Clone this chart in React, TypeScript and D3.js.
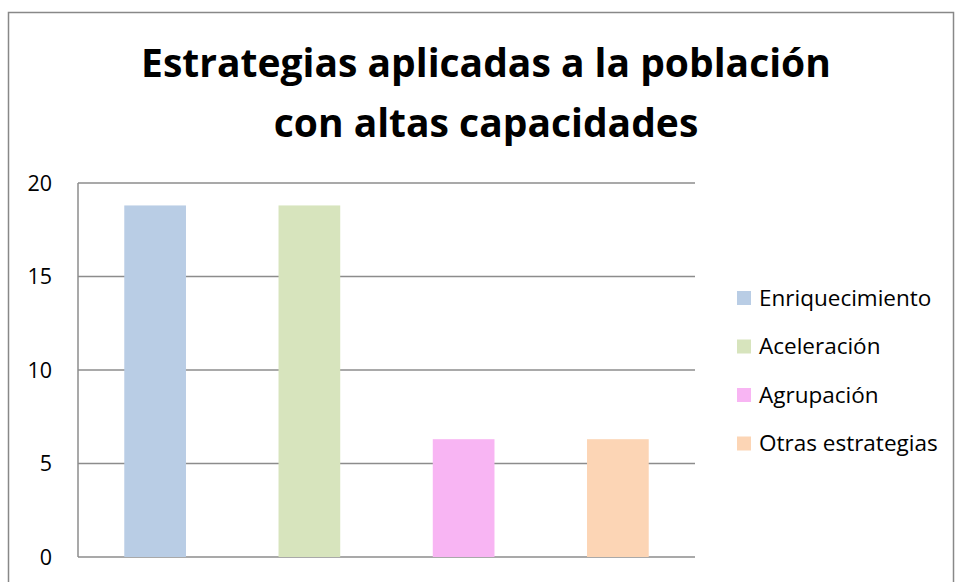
import React from "react"
import * as d3 from "d3"

const W = 955
const H = 582

const TITLE = ["Estrategias aplicadas a la población", "con altas capacidades"]
const CATEGORIES = ["Enriquecimiento", "Aceleración", "Agrupación", "Otras estrategias"]
const VALUES = [18.8, 18.8, 6.3, 6.3]
const COLORS = ["#B9CDE5", "#D7E4BD", "#F8B5F3", "#FCD5B5"]
const Y_TICKS = [0, 5, 10, 15, 20]

const FONT = "'Open Sans', Lato, sans-serif"
const GRID = "#8c8c8c"

const plot = { left: 78, right: 695, top: 183, bottom: 557 }

export default function App() {
  const x = d3
    .scaleBand<string>()
    .domain(CATEGORIES)
    .range([plot.left, plot.right])
  const y = d3.scaleLinear().domain([0, 20]).range([plot.bottom, plot.top])
  const barW = x.bandwidth() * 0.4

  return (
    <svg
      width={W}
      height={H}
      style={{ position: "absolute", left: 0, top: 0, background: "#fff" }}
    >
      {/* marco del gráfico */}
      <rect x={8.5} y={12.5} width={945} height={600} fill="#fff" stroke="#888" strokeWidth={1.5} />

      {TITLE.map((t, i) => (
        <text
          key={t}
          x={486}
          y={77 + i * 60}
          textAnchor="middle"
          fontFamily={FONT}
          fontWeight={700}
          fontSize={39}
          fill="#000"
        >
          {t}
        </text>
      ))}

      {Y_TICKS.map((v) => (
        <g key={v}>
          <line x1={plot.left} x2={plot.right} y1={y(v)} y2={y(v)} stroke={GRID} strokeWidth={1.5} />
          <text
            x={52}
            y={y(v)}
            dy="0.35em"
            textAnchor="end"
            fontFamily={FONT}
            fontSize={21.5}
            fill="#000"
          >
            {v}
          </text>
        </g>
      ))}
      <line x1={plot.left} x2={plot.left} y1={plot.top} y2={plot.bottom} stroke={GRID} strokeWidth={1.5} />

      {CATEGORIES.map((c, i) => (
        <rect
          key={c}
          x={(x(c) as number) + (x.bandwidth() - barW) / 2}
          y={y(VALUES[i])}
          width={barW}
          height={y(0) - y(VALUES[i])}
          fill={COLORS[i]}
        />
      ))}

      {CATEGORIES.map((c, i) => (
        <g key={c} transform={`translate(737, ${298 + i * 48.5})`}>
          <rect x={0} y={-7} width={14} height={14} fill={COLORS[i]} />
          <text x={22} y={0} dy="0.35em" fontFamily={FONT} fontSize={22.5} fill="#000">
            {c}
          </text>
        </g>
      ))}
    </svg>
  )
}
